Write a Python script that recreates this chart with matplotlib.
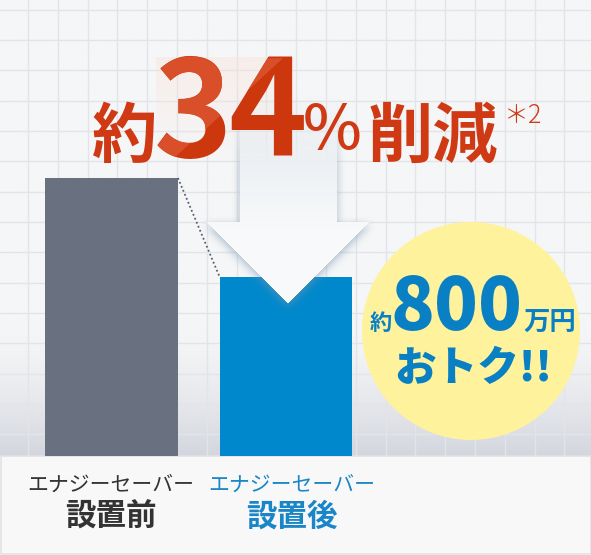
import numpy as np
import matplotlib
matplotlib.use('Agg')
import matplotlib.pyplot as plt
from matplotlib.patches import Polygon, Circle, Rectangle, PathPatch
from matplotlib.path import Path
from matplotlib.textpath import TextPath
from matplotlib.font_manager import FontProperties
from matplotlib.transforms import Affine2D

plt.rcParams['font.family'] = ['Noto Sans CJK JP', 'DejaVu Sans']

# data
categories = ['設置前', '設置後']
series_names = ['エナジーセーバー', 'エナジーセーバー']
values = [100, 64.5]
bar_colors = ['#697180', '#0088cc']
label_colors = ['#333333', '#1a86c7']
reduction_pct = '34'
saving_amount = '800'

W, H = 591, 555
PLOT_BOTTOM = 456   # pixel row where the bars stand
RED = '#cf3a14'
BLUE_TXT = '#0a80c4'

fig = plt.figure(figsize=(W / 100, H / 100), dpi=100)

# ---- background with grid
bg = fig.add_axes([0, 0, 1, 1])
bg.set_xlim(0, W)
bg.set_ylim(H, 0)
bg.axis('off')

ys = np.linspace(0, PLOT_BOTTOM, 300)
top_c = np.array([245, 246, 247]) / 255
bot_c = np.array([211, 214, 222]) / 255
t = np.clip((ys - 320) / (PLOT_BOTTOM - 320), 0, 1) ** 1.6
grad = top_c[None, :] * (1 - t[:, None]) + bot_c[None, :] * t[:, None]
bg.imshow(grad[:, None, :], extent=(0, W, PLOT_BOTTOM, 0), aspect='auto', zorder=0)

for x in np.arange(28, W, 29.8):
    bg.plot([x, x], [0, PLOT_BOTTOM], color='#e3e4e8', lw=1, zorder=1)
for y in np.arange(9.5, PLOT_BOTTOM, 30.35):
    bg.plot([0, W], [y, y], color='#e3e4e8', lw=1, zorder=1)

bg.add_patch(Rectangle((0.5, PLOT_BOTTOM), W - 1, H - PLOT_BOTTOM - 1.5,
                       fc='#f8f8f9', ec='#e2e2e5', lw=1.2, zorder=2))

# ---- bars
ax = fig.add_axes([0, (H - PLOT_BOTTOM) / H, 1, PLOT_BOTTOM / H])
ax.patch.set_alpha(0)
ax.axis('off')
ax.set_xlim(-0.639, 2.748)
ax.set_ylim(0, 100 * PLOT_BOTTOM / 278)
bw = 0.762
xpos = np.arange(len(values))
ax.bar(xpos, values, width=bw, color=bar_colors, zorder=2)
ax.plot([xpos[0] + bw / 2, xpos[1] - bw / 2], [values[0], values[1]],
        linestyle=(0, (1, 1.4)), color='#59606b', lw=1.3, zorder=3)

# ---- overlay (arrow, badge, text)
ov = fig.add_axes([0, 0, 1, 1])
ov.patch.set_alpha(0)
ov.set_xlim(0, W)
ov.set_ylim(H, 0)
ov.axis('off')

# arrow rendered as an RGBA image with soft shadow and fading top
arrow_pts = [(240, 92), (337, 92), (337, 222), (369, 222), (288, 303),
             (207, 222), (240, 222)]
x0, x1, y0, y1 = 180, 400, 70, 330
gx, gy = np.meshgrid(np.arange(x0, x1) + 0.5, np.arange(y0, y1) + 0.5)
path = Path(arrow_pts)
mask = path.contains_points(np.c_[gx.ravel(), gy.ravel()]).reshape(gx.shape).astype(float)


def blur(a, r):
    k = np.ones(2 * r + 1) / (2 * r + 1)
    a = np.apply_along_axis(lambda m: np.convolve(m, k, mode='same'), 0, a)
    a = np.apply_along_axis(lambda m: np.convolve(m, k, mode='same'), 1, a)
    return a


shadow = blur(np.roll(mask, 3, axis=0), 5)
shadow = blur(shadow, 4)
fade = np.clip((gy - 95) / 75, 0, 1)
img = np.zeros(gx.shape + (4,))
sh_rgb = np.array([120, 150, 175]) / 255
fill_top = np.array([226, 233, 239]) / 255
fill_bot = np.array([248, 249, 250]) / 255
ft = np.clip((gy - 100) / 130, 0, 1)[..., None]
fill_rgb = fill_top * (1 - ft) + fill_bot * ft
sh_a = 0.6 * shadow * (1 - mask)
fill_a = mask
alpha = fill_a + sh_a * (1 - fill_a)
rgb = (fill_rgb * fill_a[..., None] + sh_rgb * (sh_a * (1 - fill_a))[..., None]) / np.maximum(alpha, 1e-6)[..., None]
img[..., :3] = rgb
img[..., 3] = alpha * fade
ov.imshow(img, extent=(x0, x1, y1, y0), aspect='auto', zorder=3, interpolation='bilinear')

# faint tint behind the big digits
tint = np.zeros((100, 1, 4))
tint[..., :3] = np.array([250, 225, 215]) / 255
tint[:, 0, 3] = np.linspace(0.4, 0.0, 100)
ov.imshow(tint, extent=(156, 294, 160, 57), aspect='auto', zorder=3.5)

# headline
ov.text(92, 157, '約', fontsize=47, fontweight='bold', color=RED, zorder=5)
big_size = 96
fp_big = FontProperties(family='Noto Sans CJK JP', weight='bold')
hl = Polygon([(150, 50), (292, 50), (172, 160), (150, 160)], transform=ov.transData)
for ch, dx in zip(reduction_pct, [154, 228]):
    ov.text(dx, 157, ch, fontsize=big_size, fontweight='bold', color='#cc370d', zorder=5)
    # lighter glossy upper-left part of the digits
    tp = TextPath((0, 0), ch, size=big_size * 100 / 72, prop=fp_big)
    shine = PathPatch(tp, fc='#d84f2a', ec='none', zorder=6,
                      transform=Affine2D().scale(1, -1).translate(dx, 157) + ov.transData)
    ov.add_patch(shine)
    shine.set_clip_path(hl)
ov.text(303, 149, '%', fontsize=45, fontweight='medium', color=RED, zorder=5)
ov.text(368, 157, '削減', fontsize=47, fontweight='bold', color=RED, zorder=5)
ov.text(503, 123, '＊2', fontsize=18, fontweight='light', color=RED, zorder=5)

# saving badge
ov.add_patch(Circle((471, 331), 109, fc='#fff29c', ec='none', zorder=4))
ov.text(370, 330, '約', fontsize=16, fontweight='bold', color=BLUE_TXT, zorder=5)
ov.text(391, 330, saving_amount, fontsize=52, fontweight='heavy', color=BLUE_TXT, zorder=5)
ov.text(523, 330, '万円', fontsize=19, fontweight='bold', color=BLUE_TXT, zorder=5)
ov.text(394, 381, 'おトク!!', fontsize=30, fontweight='heavy', color=BLUE_TXT, zorder=5)

# category labels under the bars
centers = [111, 292]
for cx, sname, cat, col in zip(centers, series_names, categories, label_colors):
    ov.text(cx, 485, sname, fontsize=15, color=col, ha='center', va='center', zorder=5)
    ov.text(cx, 517, cat, fontsize=22, fontweight='bold', color=col, ha='center', va='center', zorder=5)

fig.savefig('out.png', dpi=100)
